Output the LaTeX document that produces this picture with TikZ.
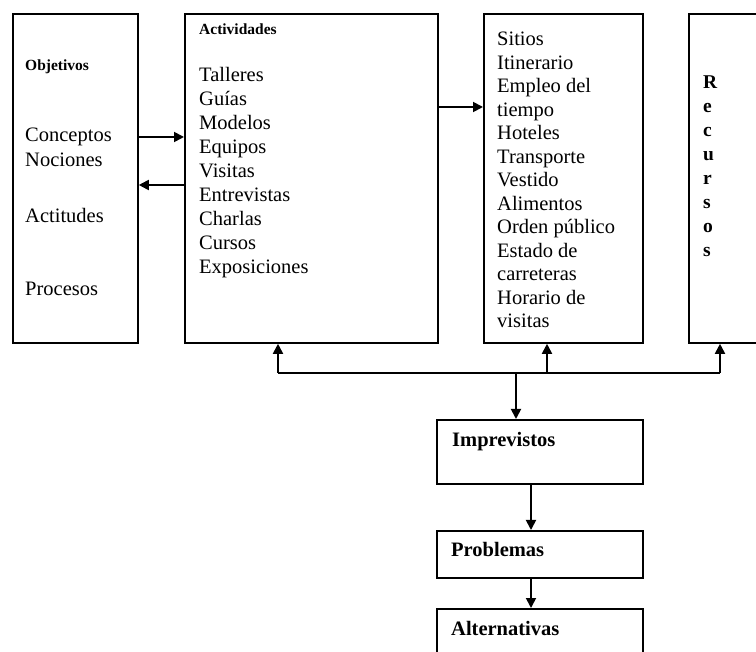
\documentclass[tikz,border=0pt]{standalone}
\usepackage{fontspec}
\setmainfont{Liberation Serif}
\usetikzlibrary{arrows.meta}
\begin{document}
\begin{tikzpicture}[x=1pt,y=1pt,
  box/.style={draw,line width=1.8pt,inner sep=0pt,anchor=north west},
  txt/.style={anchor=base west,inner sep=0pt,font=\fontsize{20.5}{24}\selectfont},
  head/.style={anchor=base west,inner sep=0pt,font=\fontsize{15.5}{18}\selectfont\bfseries},
  bighead/.style={anchor=base west,inner sep=0pt,font=\fontsize{20.5}{24}\selectfont\bfseries},
  letter/.style={anchor=base west,inner sep=0pt,font=\fontsize{19.5}{23}\selectfont\bfseries},
  link/.style={line width=1.8pt},
  arr/.style={line width=1.8pt,-{Triangle[length=10pt,width=10pt]}}]
\useasboundingbox (0,0) rectangle (756,-652);
\clip (0,0) rectangle (756,-652);

% main boxes
\node[box,minimum width=125,minimum height=329] (obj) at (12,-13) {};
\node[box,minimum width=253,minimum height=329] (act) at (184,-13) {};
\node[box,minimum width=159,minimum height=329] (sit) at (483,-13) {};
\node[box,minimum width=100,minimum height=329] (rec) at (688,-13) {};
\node[box,minimum width=206,minimum height=64] (imp) at (436,-419) {};
\node[box,minimum width=206,minimum height=47] (pro) at (436,-530) {};
\node[box,minimum width=206,minimum height=70] (alt) at (436,-608) {};

% Objetivos
\node[head] (objt) at (25,-71) {Objetivos};
\node[txt] (o1) at (25,-142) {Conceptos};
\node[txt] (o2) at (25,-167) {Nociones};
\node[txt] (o3) at (25,-223) {Actitudes};
\node[txt] (o4) at (25,-296) {Procesos};

% Actividades
\node[head] (actt) at (199,-35) {Actividades};
\foreach \w [count=\i from 0] in {Talleres,Guías,Modelos,Equipos,Visitas,Entrevistas,Charlas,Cursos,Exposiciones}
  \node[txt] (a\i) at (199,-82-23.9*\i) {\w};

% Sitios list
\foreach \w [count=\i from 0] in {Sitios,Itinerario,Empleo del,tiempo,Hoteles,Transporte,Vestido,Alimentos,Orden público,Estado de,carreteras,Horario de,visitas}
  \node[txt] (s\i) at (497,-46-23.5*\i) {\w};

% Recursos, one letter per line
\foreach \w [count=\i from 0] in {R,e,c,u,r,s,o,s}
  \node[letter] (r\i) at (703,-89-24*\i) {\w};

% lower chain
\node[bighead] (impt) at (452,-447) {Imprevistos};
\node[bighead] (prot) at (451,-557) {Problemas};
\node[bighead] (altt) at (451,-635) {Alternativas};

% links between the top boxes
\draw[arr] (obj.east |- 0,-137) -- (act.west |- 0,-137);
\draw[arr] (act.west |- 0,-185) -- (obj.east |- 0,-185);
\draw[arr] (act.east |- 0,-107) -- (sit.west |- 0,-107);

% distribution bus
\coordinate (bw) at (278,-373);
\coordinate (bm) at (547,-373);
\coordinate (be) at (720,-373);
\coordinate (bj) at (516,-373);
\draw[link] (bw) -- (be);
\draw[arr] (bw) -- (bw |- act.south);
\draw[arr] (bm) -- (bm |- sit.south);
\draw[arr] (be) -- (be |- rec.south);
\draw[arr] (bj) -- (bj |- imp.north);

% chain
\coordinate (cx) at (531,0);
\draw[arr] (cx |- imp.south) -- (cx |- pro.north);
\draw[arr] (cx |- pro.south) -- (cx |- alt.north);
\end{tikzpicture}
\end{document}
